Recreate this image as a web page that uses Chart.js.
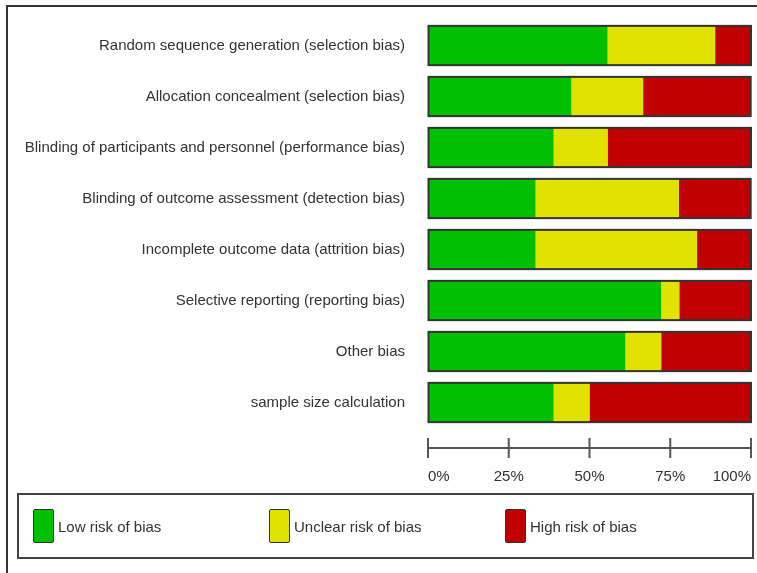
<!DOCTYPE html>
<html lang="en">
<head>
  <meta charset="UTF-8">
  <title>Risk of bias graph</title>
  <script src="https://cdn.jsdelivr.net/npm/chart.js@4.4.0/dist/chart.umd.js"></script>
  <style>
    body {
      margin: 0;
      background: #fff;
      font-family: "Liberation Sans", Arial, sans-serif;
    }
    #wrap {
      position: relative;
      width: 757px;
      height: 573px;
      overflow: hidden;
    }
    #chart {
      position: absolute;
      left: 0;
      top: 0;
    }
    #frame {
      position: absolute;
      left: 6px;
      top: 5px;
      right: 0;
      bottom: 0;
      border-top: 2px solid #333;
      border-left: 2px solid #333;
    }
    #legend {
      position: absolute;
      left: 17px;
      top: 493px;
      width: 737px;
      height: 66px;
      border: 2px solid #444;
      box-sizing: border-box;
      display: flex;
      align-items: center;
      padding-left: 14px;
    }
    .item {
      width: 236px;
      display: flex;
      align-items: center;
      font-size: 15px;
      color: #333;
    }
    .swatch {
      width: 19px;
      height: 32px;
      border: 1px solid #333;
      border-radius: 2px;
      margin-right: 4px;
    }
  </style>
</head>
<body>
  <div id="wrap">
    <canvas id="chart" width="757" height="573"></canvas>
    <div id="frame"></div>
    <div id="legend"></div>
  </div>

  <script>
    const domains = [
      'Random sequence generation (selection bias)',
      'Allocation concealment (selection bias)',
      'Blinding of participants and personnel (performance bias)',
      'Blinding of outcome assessment (detection bias)',
      'Incomplete outcome data (attrition bias)',
      'Selective reporting (reporting bias)',
      'Other bias',
      'sample size calculation'
    ];
    // percent of studies per judgement
    const lowRisk     = [55.6, 44.4, 38.9, 33.3, 33.3, 72.2, 61.1, 38.9];
    const unclearRisk = [33.3, 22.2, 16.7, 44.4, 50.0,  5.6, 11.1, 11.1];
    const highRisk    = [11.1, 33.3, 44.4, 22.2, 16.7, 22.2, 27.8, 50.0];
    const xTicks = [0, 25, 50, 75, 100];

    const fontFamily = '"Liberation Sans", Arial, sans-serif';

    // outline round each whole bar + the detached percent axis
    const robPlugin = {
      id: 'robDecor',
      afterDatasetsDraw(chart) {
        const ctx = chart.ctx;
        const first = chart.getDatasetMeta(0).data;
        const last = chart.getDatasetMeta(chart.data.datasets.length - 1).data;
        ctx.save();
        ctx.strokeStyle = '#333';
        ctx.lineWidth = 2;
        first.forEach((bar, i) => {
          const p = bar.getProps(['y', 'base', 'height'], true);
          const q = last[i].getProps(['x'], true);
          ctx.strokeRect(p.base, p.y - p.height / 2, q.x - p.base, p.height);
        });

        const xs = chart.scales.x;
        const y = chart.chartArea.bottom + 20;
        ctx.strokeStyle = '#555';
        ctx.beginPath();
        ctx.moveTo(xs.left, y);
        ctx.lineTo(xs.right, y);
        xTicks.forEach(v => {
          const px = xs.getPixelForValue(v);
          ctx.moveTo(px, y - 10);
          ctx.lineTo(px, y + 10);
        });
        ctx.stroke();
        ctx.restore();
      }
    };

    const chart = new Chart(document.getElementById('chart'), {
      type: 'bar',
      data: {
        labels: domains,
        datasets: [
          { label: 'Low risk of bias', data: lowRisk, backgroundColor: '#00c000' },
          { label: 'Unclear risk of bias', data: unclearRisk, backgroundColor: '#e2e200' },
          { label: 'High risk of bias', data: highRisk, backgroundColor: '#c00000' }
        ]
      },
      options: {
        indexAxis: 'y',
        responsive: false,
        animation: false,
        datasets: {
          bar: { barPercentage: 0.77, categoryPercentage: 1, borderWidth: 0 }
        },
        layout: {
          padding: { left: 0, right: 4, top: 20, bottom: 81 }
        },
        plugins: {
          legend: { display: false },
          tooltip: { enabled: false }
        },
        scales: {
          x: {
            stacked: true,
            min: 0,
            max: 100,
            afterBuildTicks(scale) {
              scale.ticks = xTicks.map(v => ({ value: v }));
            },
            // invisible tick marks only to leave the gap above the labels
            grid: { drawOnChartArea: false, drawTicks: true, tickLength: 34, color: 'rgba(0,0,0,0)' },
            border: { display: false },
            ticks: {
              callback: v => v + '%',
              align: 'inner',
              padding: 6,
              maxRotation: 0,
              color: '#333',
              font: { family: fontFamily, size: 15 }
            }
          },
          y: {
            stacked: true,
            afterFit(scale) { scale.width = 428; },
            grid: { drawOnChartArea: false, drawTicks: true, tickLength: 20, color: 'rgba(0,0,0,0)' },
            border: { display: false },
            ticks: {
              padding: 3,
              color: '#333',
              font: { family: fontFamily, size: 15 }
            }
          }
        }
      },
      plugins: [robPlugin]
    });

    // legend row built from the datasets
    const legendDiv = document.getElementById('legend');
    chart.data.datasets.forEach(ds => {
      legendDiv.innerHTML += `
        <div class="item">
          <div class="swatch" style="background:${ds.backgroundColor}"></div>
          <span>${ds.label}</span>
        </div>`;
    });
  </script>
</body>
</html>
